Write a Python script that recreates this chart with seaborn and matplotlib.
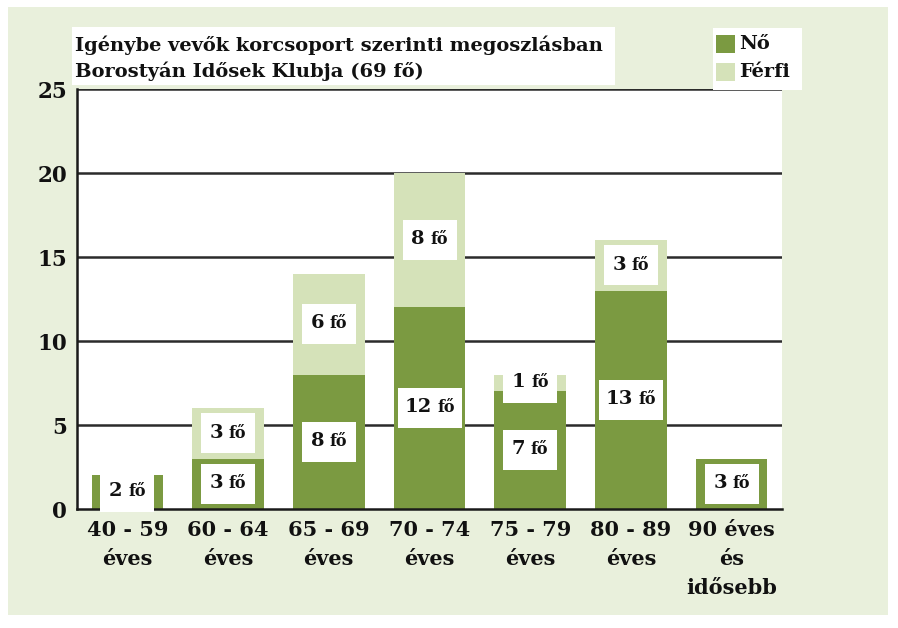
import matplotlib
matplotlib.use("Agg")
import matplotlib.pyplot as plt
import matplotlib.transforms as mtransforms
import seaborn as sns
import pandas as pd
import numpy as np
from matplotlib.patches import Rectangle
from matplotlib.offsetbox import TextArea, HPacker, AnnotationBbox

categories = ["40 - 59\néves", "60 - 64\néves", "65 - 69\néves", "70 - 74\néves",
              "75 - 79\néves", "80 - 89\néves", "90 éves\nés\nidősebb"]
no_values = [2, 3, 8, 12, 7, 13, 3]
ferfi_values = [0, 3, 6, 8, 1, 3, 0]
series_names = ["Nő", "Férfi"]
unit = "fő"
title_lines = ["Igénybe vevők korcsoport szerinti megoszlásban",
               "Borostyán Idősek Klubja (69 fő)"]
yticks = [0, 5, 10, 15, 20, 25]

DARK = "#7b9a41"
LIGHT = "#d5e2b9"
PANEL = "#e9f0dc"
TXT = "#111111"
FONT = "DejaVu Serif"

sns.set_theme(style="white")
plt.rcParams["font.family"] = [FONT, "DejaVu Sans"]
plt.rcParams["font.weight"] = "bold"
plt.rcParams["text.color"] = TXT
plt.rcParams["xtick.color"] = TXT
plt.rcParams["ytick.color"] = TXT

W, H = 898, 628
fig = plt.figure(figsize=(W / 100, H / 100), dpi=100, facecolor="white")

def fx(px):
    return px / W

def fy(py):
    return 1 - py / H

# green panel (background axes)
bg = fig.add_axes([fx(8), fy(615), fx(888) - fx(8), fy(7) - fy(615)], zorder=0)
bg.set_facecolor(PANEL)
bg.set_xticks([])
bg.set_yticks([])
for s in bg.spines.values():
    s.set_visible(False)

ax = fig.add_axes([fx(77), fy(509), fx(782) - fx(77), fy(89) - fy(509)], zorder=1)
ax.set_facecolor("white")

df = pd.DataFrame({"cat": categories, "no": no_values, "ferfi": ferfi_values})
df["total"] = df["no"] + df["ferfi"]

sns.barplot(data=df, x="cat", y="total", color=LIGHT, width=0.71, ax=ax,
            saturation=1, zorder=3, edgecolor="none")
sns.barplot(data=df, x="cat", y="no", color=DARK, width=0.71, ax=ax,
            saturation=1, zorder=4, edgecolor="none")

ax.set_ylim(0, 25)
ax.set_xlim(-0.5, len(categories) - 0.5)
ax.set_yticks(yticks)
ax.set_yticklabels([str(v) for v in yticks], fontsize=15.5, fontweight="bold")
for y in yticks[1:]:
    ax.axhline(y, color="#2b2b2b", lw=1.8, zorder=2)

ax.set_xticks(range(len(categories)))
ax.set_xticklabels(categories, fontsize=15, fontweight="bold", linespacing=1.55)
ax.tick_params(axis="x", which="major", length=0, pad=8)
ax.set_xticks(np.arange(-0.5, len(categories), 1), minor=True)
ax.tick_params(axis="x", which="minor", length=8, width=1.8, color="#1a1a1a",
               direction="out")
ax.tick_params(axis="y", length=5, width=1.8, color="#1a1a1a", direction="out",
               pad=2)
ax.set_xlabel("")
ax.set_ylabel("")
for s in ["top", "right"]:
    ax.spines[s].set_visible(False)
for s in ["left", "bottom"]:
    ax.spines[s].set_color("#1a1a1a")
    ax.spines[s].set_linewidth(1.8)
    ax.spines[s].set_zorder(6)


def value_label(xc, yc, val):
    nd = len(str(val))
    wpx = 44 + 10 * nd
    hpx = 40
    trans = fig.dpi_scale_trans + mtransforms.ScaledTranslation(xc, yc, ax.transData)
    ax.add_patch(Rectangle((-wpx / 200, -hpx / 200), wpx / 100, hpx / 100,
                           transform=trans, facecolor="white", edgecolor="none",
                           zorder=7, clip_on=False))
    pack = HPacker(children=[
        TextArea(str(val), textprops=dict(fontsize=14, fontweight="bold", color=TXT)),
        TextArea(unit, textprops=dict(fontsize=11.5, fontweight="bold", color=TXT)),
    ], align="baseline", sep=4, pad=0)
    ab = AnnotationBbox(pack, (xc, yc), xycoords="data", frameon=False,
                        box_alignment=(0.5, 0.45), pad=0, zorder=8,
                        annotation_clip=False)
    ax.add_artist(ab)


for i, (n, f) in enumerate(zip(no_values, ferfi_values)):
    if n > 0:
        value_label(i, n / 2, n)
    if f > 0:
        value_label(i, n + f / 2, f)

# overlay axes for title and legend boxes
ov = fig.add_axes([0, 0, 1, 1], zorder=2)
ov.set_xlim(0, W)
ov.set_ylim(H, 0)
ov.axis("off")
ov.patch.set_alpha(0)

ov.add_patch(Rectangle((72, 27), 615 - 72, 85 - 27, facecolor="white",
                       edgecolor="none"))
ov.text(75, 45, title_lines[0], ha="left", va="center", fontsize=14,
        fontweight="bold")
ov.text(75, 71, title_lines[1], ha="left", va="center", fontsize=14,
        fontweight="bold")

ov.add_patch(Rectangle((713, 28), 802 - 713, 90 - 28, facecolor="white",
                       edgecolor="none"))
for j, (name, col) in enumerate(zip(series_names, [DARK, LIGHT])):
    yc = 44 + j * 28
    ov.add_patch(Rectangle((716, yc - 9), 19, 18, facecolor=col, edgecolor="none"))
    ov.text(739, yc, name, ha="left", va="center", fontsize=14, fontweight="bold")

fig.savefig("out.png", dpi=100, facecolor="white")
